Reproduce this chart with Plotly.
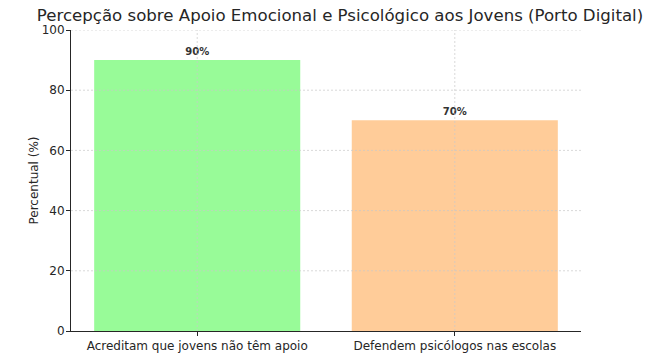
import plotly.graph_objects as go

categories = ["Acreditam que jovens não têm apoio", "Defendem psicólogos nas escolas"]
values = [90, 70]
labels = ["90%", "70%"]
colors = ["#98FB98", "#FFCC99"]
yticks = [0, 20, 40, 60, 80, 100]

FONT = "DejaVu Sans"

fig = go.Figure()
fig.add_trace(go.Bar(
    x=list(range(len(categories))), y=values, width=0.8,
    marker=dict(color=colors, line=dict(width=0)),
    text=labels, textposition="outside", cliponaxis=False,
    textfont=dict(family=FONT, size=10, color="#333333", weight="bold"),
    hoverinfo="skip",
))

grid = dict(color="#c8c8c8", width=0.7, dash="2px,2px")
shapes = []
for t in yticks[1:]:
    shapes.append(dict(type="line", xref="paper", x0=0, x1=1, yref="y", y0=t, y1=t,
                       line=grid, layer="above"))
for i in range(len(categories)):
    shapes.append(dict(type="line", xref="x", x0=i, x1=i, yref="paper", y0=0, y1=1,
                       line=grid, layer="above"))

fig.update_layout(
    width=652, height=353,
    margin=dict(l=71, r=71, t=30, b=22),
    paper_bgcolor="white", plot_bgcolor="white",
    showlegend=False,
    bargap=0.2,
    title=dict(text="Percepção sobre Apoio Emocional e Psicológico aos Jovens (Porto Digital)",
               x=0.5215, xanchor="center", y=0.957, yanchor="middle",
               font=dict(family=FONT, size=16.6, color="#262626")),
    font=dict(family=FONT, size=12, color="#262626"),
    shapes=shapes,
)
fig.update_xaxes(
    range=[-0.49, 1.49], automargin=False,
    tickvals=list(range(len(categories))), ticktext=categories,
    showgrid=False, showline=True, linecolor="#262626", linewidth=1,
    ticks="outside", ticklen=4, tickcolor="#262626",
    tickfont=dict(family=FONT, size=12, color="#262626"),
    zeroline=False,
)
fig.update_yaxes(
    range=[0, 100], tickvals=yticks, automargin=False,
    showgrid=False, showline=True, linecolor="#262626", linewidth=1,
    ticks="outside", ticklen=4, tickcolor="#262626",
    tickfont=dict(family=FONT, size=12, color="#262626"),
    ticklabelstandoff=-1,
    title=dict(text="Percentual (%)", font=dict(family=FONT, size=12, color="#262626"), standoff=0),
    zeroline=False,
)

fig.write_html("out.html")
